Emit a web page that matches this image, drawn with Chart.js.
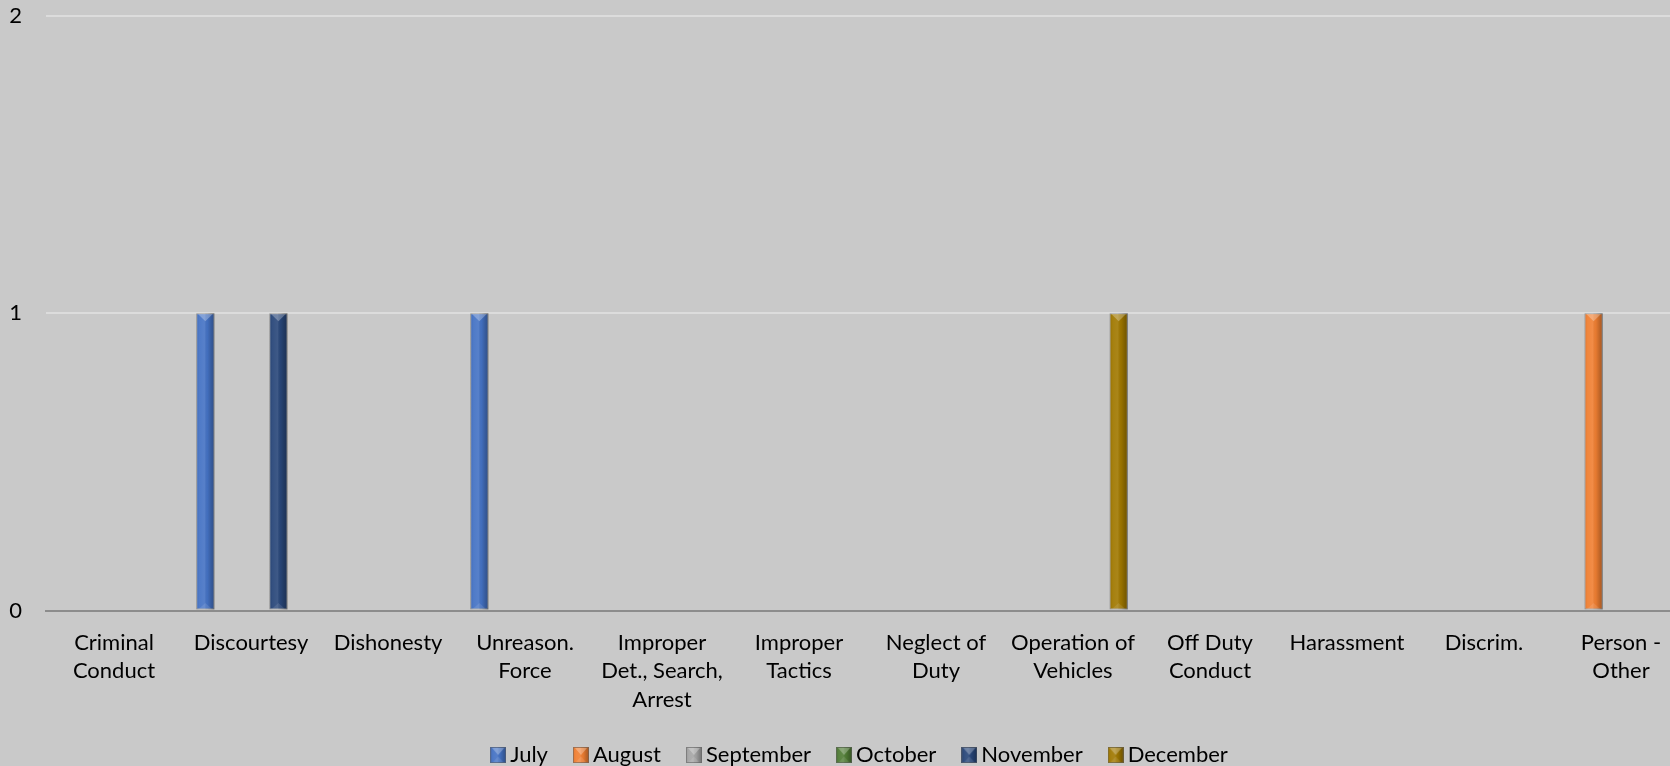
<!DOCTYPE html>
<html><head><meta charset="utf-8">
<script src="https://cdn.jsdelivr.net/npm/chart.js@4"></script>
<style>
html,body{margin:0;padding:0;background:#C9C9C9;overflow:hidden;width:1670px;height:766px}
canvas{display:block}
</style></head><body>
<canvas id="c" width="1725" height="776" style="width:1725px;height:776px"></canvas>
<script>
// ---- data ----
const categories = [["Criminal","Conduct"],["Discourtesy"],["Dishonesty"],["Unreason.","Force"],["Improper","Det., Search,","Arrest"],["Improper","Tactics"],["Neglect of","Duty"],["Operation of","Vehicles"],["Off Duty","Conduct"],["Harassment"],["Discrim."],["Person -","Other"]];
const seriesNames = ["July","August","September","October","November","December"];
const july      = [0,1,0,1,0,0,0,0,0,0,0,0];
const august    = [0,0,0,0,0,0,0,0,0,0,0,1];
const september = [0,0,0,0,0,0,0,0,0,0,0,0];
const october   = [0,0,0,0,0,0,0,0,0,0,0,0];
const november  = [0,1,0,0,0,0,0,0,0,0,0,0];
const december  = [0,0,0,0,0,0,0,1,0,0,0,0];
const yTicks = [0,1,2];
const seriesColors = ["#4472C4","#F07F32","#A5A5A5","#507C35","#284679","#A07800"];

const seriesValues = [july, august, september, october, november, december];
const FONT = {family:"Lato, 'Open Sans', sans-serif", size:22};

function drawBevel(ctx, x0, y0, w, h){
  ctx.save();
  const g = ctx.createLinearGradient(x0, 0, x0 + w, 0);
  g.addColorStop(0, 'rgba(0,0,0,0.06)');
  g.addColorStop(0.18, 'rgba(255,255,255,0.06)');
  g.addColorStop(0.45, 'rgba(255,255,255,0.10)');
  g.addColorStop(0.62, 'rgba(0,0,0,0.04)');
  g.addColorStop(0.85, 'rgba(0,0,0,0.22)');
  g.addColorStop(1, 'rgba(0,0,0,0.30)');
  ctx.fillStyle = g;
  ctx.fillRect(x0, y0, w, h);
  const th = Math.min(7, h/2);
  ctx.fillStyle = 'rgba(255,255,255,0.28)';
  ctx.beginPath();
  ctx.moveTo(x0 + 2, y0 + 1);
  ctx.lineTo(x0 + w - 2, y0 + 1);
  ctx.lineTo(x0 + w/2, y0 + 1 + th);
  ctx.closePath(); ctx.fill();
  ctx.fillStyle = 'rgba(255,255,255,0.10)';
  ctx.beginPath();
  ctx.moveTo(x0 + 3, y0 + h - 1);
  ctx.lineTo(x0 + w - 3, y0 + h - 1);
  ctx.lineTo(x0 + w/2, y0 + h - 1 - th*0.8);
  ctx.closePath(); ctx.fill();
  ctx.restore();
}

function legendImage(color){
  const c = document.createElement('canvas');
  c.width = 16; c.height = 16;
  const x = c.getContext('2d');
  x.fillStyle = color; x.fillRect(0,0,16,16);
  drawBevel(x, 0, 0, 16, 16);
  x.strokeStyle = 'rgba(100,100,100,0.55)'; x.lineWidth = 1;
  x.strokeRect(0.5,0.5,15,15);
  return c;
}
const legendImgs = seriesColors.map(legendImage);

const bevelPlugin = {
  id:'bevel',
  afterDatasetsDraw(chart){
    const ctx = chart.ctx;
    chart.data.datasets.forEach((ds,i)=>{
      const meta = chart.getDatasetMeta(i);
      if (meta.hidden) return;
      meta.data.forEach((bar,j)=>{
        if (!ds.data[j]) return;
        const p = bar.getProps(['x','y','base','width'], true);
        drawBevel(ctx, p.x - p.width/2, p.y, p.width, p.base - p.y);
      });
    });
  }
};

new Chart(document.getElementById('c'), {
  type:'bar',
  data:{
    labels: categories,
    datasets: seriesNames.map((n,i)=>({
      label:n, data:seriesValues[i], backgroundColor:seriesColors[i],
      borderColor:'rgba(105,105,105,0.55)', borderWidth:1, borderSkipped:false,
      categoryPercentage:0.8, barPercentage:1.0
    }))
  },
  options:{
    responsive:false, animation:false, devicePixelRatio:1,
    layout:{padding:{top:16,left:0,right:0,bottom:0}},
    scales:{
      x:{
        ticks:{autoSkip:false, maxRotation:0, minRotation:0, padding:18, color:'#000', font:{...FONT, lineHeight:1.3}},
        grid:{display:false, drawTicks:false},
        border:{display:true, color:'#8C8C8C', width:2},
        afterFit(s){ s.height = 101.5; }
      },
      y:{
        min:0, max:2,
        afterBuildTicks(s){ s.ticks = yTicks.map(v=>({value:v})); },
        ticks:{padding:0, color:'#000', font:FONT},
        grid:{drawTicks:true, tickLength:23.5, tickColor:'rgba(0,0,0,0)', lineWidth:2,
              color:(c)=> c.tick && c.tick.value===0 ? '#8C8C8C' : '#DCDCDC'},
        border:{display:false},
        afterFit(s){ s.width = 45.5; }
      },
      y2:{
        position:'right', display:true,
        ticks:{display:false}, grid:{display:false, drawTicks:false}, border:{display:false},
        afterFit(s){ s.width = 35.5; }
      }
    },
    plugins:{
      tooltip:{enabled:false},
      legend:{
        position:'bottom',
        labels:{
          usePointStyle:true, pointStyleWidth:2, boxHeight:16, padding:32,
          color:'#000', font:FONT,
          generateLabels(chart){
            return chart.data.datasets.map((ds,i)=>({
              text:ds.label, fillStyle:seriesColors[i], strokeStyle:seriesColors[i],
              lineWidth:0, hidden:false, datasetIndex:i, pointStyle:legendImgs[i], fontColor:'#000'
            }));
          }
        }
      }
    }
  },
  plugins:[bevelPlugin]
});
</script>
</body></html>
